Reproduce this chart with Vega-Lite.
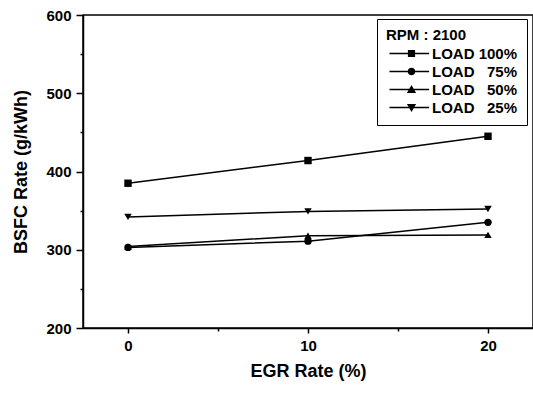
{
  "$schema": "https://vega.github.io/schema/vega-lite/v6.json",
  "width": 450,
  "height": 313,
  "autosize": {"type": "none"},
  "padding": {"left": 83, "top": 15, "right": 0, "bottom": 66},
  "background": "white",
  "config": {
    "font": "Liberation Sans",
    "view": {"stroke": "black", "strokeWidth": 1.5},
    "axis": {
      "domainColor": "black",
      "domainWidth": 1.5,
      "tickColor": "black",
      "tickWidth": 1.5,
      "grid": false,
      "labelColor": "black",
      "labelFont": "Liberation Sans",
      "labelFontSize": 15,
      "labelFontWeight": "bold",
      "titleColor": "black",
      "titleFont": "Liberation Sans",
      "titleFontSize": 18,
      "titleFontWeight": "bold"
    }
  },
  "data": {
    "values": [
      {"egr": 0, "bsfc": 385, "load": "LOAD 100%"},
      {"egr": 10, "bsfc": 414, "load": "LOAD 100%"},
      {"egr": 20, "bsfc": 445, "load": "LOAD 100%"},
      {"egr": 0, "bsfc": 303, "load": "LOAD\u00a0\u00a0\u00a075%"},
      {"egr": 10, "bsfc": 311, "load": "LOAD\u00a0\u00a0\u00a075%"},
      {"egr": 20, "bsfc": 335, "load": "LOAD\u00a0\u00a0\u00a075%"},
      {"egr": 0, "bsfc": 304, "load": "LOAD\u00a0\u00a0\u00a050%"},
      {"egr": 10, "bsfc": 318, "load": "LOAD\u00a0\u00a0\u00a050%"},
      {"egr": 20, "bsfc": 319, "load": "LOAD\u00a0\u00a0\u00a050%"},
      {"egr": 0, "bsfc": 342, "load": "LOAD\u00a0\u00a0\u00a025%"},
      {"egr": 10, "bsfc": 349, "load": "LOAD\u00a0\u00a0\u00a025%"},
      {"egr": 20, "bsfc": 352, "load": "LOAD\u00a0\u00a0\u00a025%"}
    ]
  },
  "layer": [
    {
      "mark": {"type": "line", "color": "black", "strokeWidth": 1.5},
      "encoding": {
        "x": {
          "field": "egr", "type": "quantitative",
          "scale": {"domain": [-2.5, 22.5], "nice": false, "zero": false},
          "axis": {"values": [0, 10, 20], "tickSize": 5, "labelPadding": 5, "title": "EGR Rate (%)", "titlePadding": 9}
        },
        "y": {
          "field": "bsfc", "type": "quantitative",
          "scale": {"domain": [200, 600], "nice": false, "zero": false},
          "axis": {"values": [200, 300, 400, 500, 600], "tickSize": 7, "labelPadding": 5, "title": "BSFC Rate (g/kWh)", "titlePadding": 15}
        },
        "detail": {"field": "load"}
      }
    },
    {
      "mark": {"type": "point", "filled": true, "color": "black", "opacity": 1, "size": 55},
      "encoding": {
        "x": {"field": "egr", "type": "quantitative", "axis": null},
        "y": {"field": "bsfc", "type": "quantitative", "axis": null},
        "shape": {
          "field": "load", "type": "nominal",
          "scale": {"domain": ["LOAD 100%", "LOAD\u00a0\u00a0\u00a075%", "LOAD\u00a0\u00a0\u00a050%", "LOAD\u00a0\u00a0\u00a025%"], "range": ["square", "circle", "triangle-up", "triangle-down"]},
          "legend": null
        }
      }
    },
    {
      "mark": {"type": "point", "filled": true, "color": "black", "opacity": 0, "size": 64},
      "encoding": {
        "x": {"field": "egr", "type": "quantitative", "axis": {"values": [5, 15], "labels": false, "domain": false, "tickSize": 3, "title": null, "orient": "bottom"}},
        "y": {"field": "bsfc", "type": "quantitative", "axis": {"values": [250, 350, 450, 550], "labels": false, "domain": false, "tickSize": 3, "title": null, "orient": "left"}},
        "shape": {
          "field": "load", "type": "nominal",
          "scale": {
            "domain": ["LOAD 100%", "LOAD\u00a0\u00a0\u00a075%", "LOAD\u00a0\u00a0\u00a050%", "LOAD\u00a0\u00a0\u00a025%"],
            "range": [
              "M-5.5,-0.16H4.4V0.16H-5.5ZM-0.9,-0.9H0.9V0.9H-0.9Z",
              "M-5.5,-0.16H4.4V0.16H-5.5ZM-0.95,0A0.95,0.95,0,1,1,0.95,0A0.95,0.95,0,1,1,-0.95,0Z",
              "M-5.5,-0.16H4.4V0.16H-5.5ZM0,-1.1L1.15,0.85L-1.15,0.85Z",
              "M-5.5,-0.16H4.4V0.16H-5.5ZM0,1.1L-1.15,-0.85L1.15,-0.85Z"
            ]
          },
          "legend": {
            "orient": "none",
            "legendX": 294,
            "legendY": 4,
            "title": "RPM : 2100",
            "titleFontSize": 15,
            "titleFontWeight": "bold",
            "titleColor": "black",
            "titleFont": "Liberation Sans",
            "titlePadding": 3,
            "labelFontSize": 15,
            "labelFontWeight": "bold",
            "labelColor": "black",
            "labelFont": "Liberation Sans",
            "labelOffset": 13,
            "symbolSize": 64,
            "symbolOpacity": 1,
            "symbolFillColor": "black",
            "symbolStrokeColor": "black",
            "symbolStrokeWidth": 0,
            "symbolOffset": 18,
            "rowPadding": 2,
            "padding": 9,
            "strokeColor": "black",
            "fillColor": "white",
            "cornerRadius": 0,
            "encode": {
              "symbols": {
                "update": {
                  "fill": {"value": "black"},
                  "opacity": {"value": 1}
                }
              }
            }
          }
        }
      }
    }
  ],
  "resolve": {"scale": {"shape": "independent"}, "axis": {"x": "independent", "y": "independent"}}
}
